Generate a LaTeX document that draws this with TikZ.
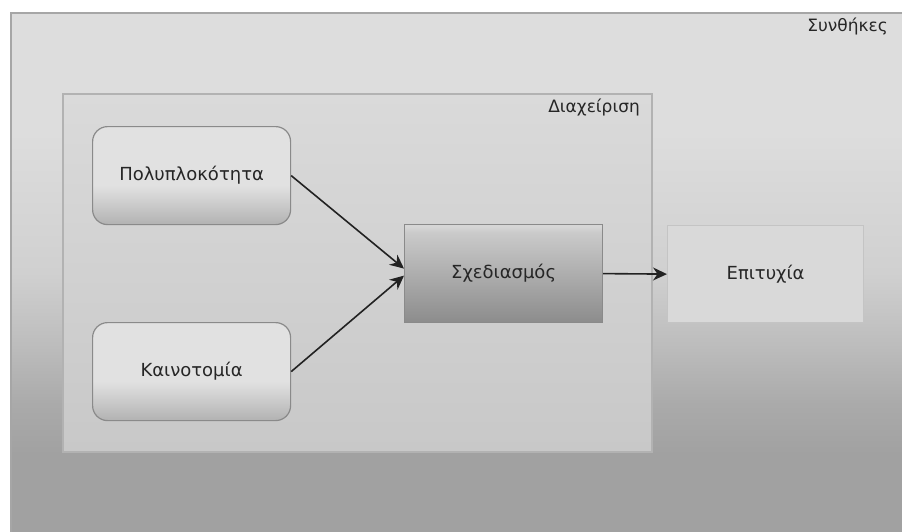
\documentclass[tikz,border=0pt]{standalone}
\usepackage{fontspec}
\setmainfont{DejaVu Sans}
\usetikzlibrary{arrows.meta}

% grey tones
\definecolor{txt}{HTML}{262626}
\definecolor{linec}{HTML}{222222}
\definecolor{condtop}{HTML}{DDDDDD}
\definecolor{condmidA}{HTML}{D0D0D0}
\definecolor{condmidB}{HTML}{BDBDBD}
\definecolor{condmidC}{HTML}{AAAAAA}
\definecolor{condbot}{HTML}{A1A1A1}
\definecolor{condborder}{HTML}{A6A6A6}
\definecolor{mgmttop}{HTML}{DADADA}
\definecolor{mgmtbot}{HTML}{C8C8C8}
\definecolor{mgmtborder}{HTML}{B2B2B2}
\definecolor{roundtop}{HTML}{E1E1E1}
\definecolor{roundmid}{HTML}{D6D6D6}
\definecolor{roundbot}{HTML}{B2B2B2}
\definecolor{roundborder}{HTML}{8A8A8A}
\definecolor{designtop}{HTML}{CACACA}
\definecolor{designhi}{HTML}{D6D6D6}
\definecolor{designbot}{HTML}{8C8C8C}
\definecolor{designborder}{HTML}{8A8A8A}
\definecolor{succfill}{HTML}{D9D9D9}
\definecolor{succborder}{HTML}{C4C4C4}

% vertical shadings (the 25bp..75bp band is fitted to the shape)
\pgfdeclareverticalshading{condshade}{100bp}{%
  color(0bp)=(condbot); color(25bp)=(condbot); color(32.9bp)=(condbot);
  color(37.7bp)=(condmidC); color(43.5bp)=(condmidB); color(50.2bp)=(condmidA);
  color(63.6bp)=(condtop); color(100bp)=(condtop)}
\pgfdeclareverticalshading{mgmtshade}{100bp}{%
  color(0bp)=(mgmtbot); color(25bp)=(mgmtbot); color(75bp)=(mgmttop); color(100bp)=(mgmttop)}
\pgfdeclareverticalshading{roundshade}{100bp}{%
  color(0bp)=(roundbot); color(25bp)=(roundbot); color(40bp)=(roundmid);
  color(45bp)=(roundtop); color(100bp)=(roundtop)}
\pgfdeclareverticalshading{designshade}{100bp}{%
  color(0bp)=(designbot); color(25bp)=(designbot); color(71bp)=(designtop);
  color(74bp)=(designhi); color(100bp)=(designhi)}

\tikzset{
  boxfont/.style={font=\fontsize{18}{21}\selectfont, text=txt},
  captionfont/.style={font=\fontsize{17}{20}\selectfont, text=txt},
  container/.style={rectangle, inner sep=0pt, anchor=north west},
  conditions/.style={container, shading=condshade, draw=condborder, line width=1.5pt},
  management/.style={container, shading=mgmtshade, draw=mgmtborder, line width=1.5pt},
  factor/.style={rectangle, rounded corners=15pt, anchor=north west, inner sep=0pt,
    minimum width=198pt, minimum height=98pt, shading=roundshade,
    draw=roundborder, line width=1.2pt, boxfont},
  design/.style={rectangle, anchor=north west, inner sep=0pt,
    minimum width=198pt, minimum height=98pt, shading=designshade,
    draw=designborder, line width=1.2pt, boxfont},
  outcome/.style={rectangle, anchor=north west, inner sep=0pt,
    minimum width=196pt, minimum height=97pt, fill=succfill,
    draw=succborder, line width=1.2pt, boxfont},
  caption/.style={anchor=base east, inner sep=0pt, captionfont},
  arr/.style={draw=linec, line width=1.6pt,
    -{Stealth[length=14pt, width=13pt, inset=4.5pt]}}
}

\begin{document}
\begin{tikzpicture}[x=1pt, y=-1pt]
  \useasboundingbox[fill=white] (0,0) rectangle (902,531);

  % outer frame and management frame
  \node[conditions, minimum width=900pt, minimum height=525pt] (cond) at (10,12) {};
  \node[caption] (condlbl) at (888,31) {Συνθήκες};
  \node[management, minimum width=589pt, minimum height=358pt] (mgmt) at (62,93) {};
  \node[caption] (mgmtlbl) at (640,112) {Διαχείριση};

  % boxes
  \node[factor] (compl) at (92,126) {Πολυπλοκότητα};
  \node[factor] (innov) at (92,322) {Καινοτομία};
  \node[design] (plan) at (404,224) {Σχεδιασμός};
  \node[outcome] (succ) at (667,225) {Επιτυχία};

  % connectors
  \draw[arr] (compl.east) -- ([yshift=5pt]plan.west);
  \draw[arr] (innov.east) -- ([yshift=-2pt]plan.west);
  \draw[arr] (plan.east) -- (succ.west);
\end{tikzpicture}
\end{document}
